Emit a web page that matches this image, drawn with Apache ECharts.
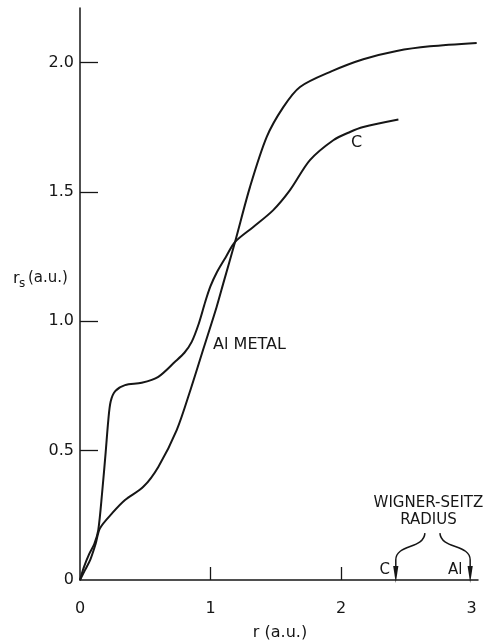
<!DOCTYPE html>
<html>
<head>
<meta charset="utf-8">
<script src="https://cdn.jsdelivr.net/npm/echarts@6/dist/echarts.min.js"></script>
<style>
  html, body { margin: 0; padding: 0; background: #fff; }
  #chart { width: 491px; height: 641px; }
</style>
</head>
<body>
<div id="chart"></div>
<script>
// Wigner-Seitz-type radius r_s versus distance r from the nucleus (atomic units)
const alR  = [0, 0.04, 0.08, 0.12, 0.153, 0.25, 0.345, 0.485, 0.6, 0.741, 0.85, 0.95, 1.047, 1.098, 1.188, 1.303, 1.431, 1.558, 1.686, 1.93, 2.171, 2.427, 2.682, 3.04];
const alRs = [0, 0.04, 0.08, 0.14, 0.2, 0.26, 0.309, 0.36, 0.437, 0.579, 0.74, 0.9, 1.055, 1.146, 1.306, 1.519, 1.712, 1.827, 1.905, 1.966, 2.012, 2.044, 2.062, 2.075];

const cR  = [0, 0.03, 0.07, 0.11, 0.14, 0.17, 0.197, 0.217, 0.235, 0.27, 0.345, 0.473, 0.6, 0.728, 0.8, 0.856, 0.91, 0.96, 1.0, 1.05, 1.12, 1.188, 1.328, 1.481, 1.609, 1.762, 1.941, 2.069, 2.171, 2.44];
const cRs = [0, 0.05, 0.1, 0.14, 0.193, 0.34, 0.495, 0.618, 0.69, 0.73, 0.753, 0.762, 0.785, 0.843, 0.878, 0.92, 0.99, 1.075, 1.135, 1.19, 1.25, 1.306, 1.364, 1.429, 1.506, 1.622, 1.699, 1.731, 1.75, 1.779];

const xTickLabels = [0, 1, 2, 3];
const xTickMarks  = [1, 2];
const yTickLabels = [0, 0.5, 1, 1.5, 2];
const yTickMarks  = [0.5, 1, 1.5, 2];

// Wigner-Seitz radii marked on the r axis
const wsRadius = { C: 2.42, Al: 2.99 };

const FONT = '"DejaVu Sans", "Liberation Sans", sans-serif';
const INK = '#161616';

const pairs = (xs, ys) => xs.map((x, i) => [x, ys[i]]);

const chart = echarts.init(document.getElementById('chart'), null, { renderer: 'canvas' });

chart.setOption({
  animation: false,
  backgroundColor: '#ffffff',
  grid: { left: 80, right: 13, top: 8, bottom: 61 },
  xAxis: {
    type: 'value', min: 0, max: 3.05,
    splitLine: { show: false },
    axisLine: { lineStyle: { color: INK, width: 1.5 } },
    axisTick: { inside: true, length: 13, lineStyle: { color: INK, width: 1.3 }, customValues: xTickMarks },
    axisLabel: { color: INK, fontFamily: FONT, fontSize: 16, margin: 21, customValues: xTickLabels,
                 formatter: v => String(v) }
  },
  yAxis: {
    type: 'value', min: 0, max: 2.21,
    splitLine: { show: false },
    axisLine: { lineStyle: { color: INK, width: 1.5 } },
    axisTick: { inside: true, length: 18, lineStyle: { color: INK, width: 1.3 }, customValues: yTickMarks },
    axisLabel: { color: INK, fontFamily: FONT, fontSize: 16, margin: 6, customValues: yTickLabels,
                 formatter: v => (v === 0 ? '0' : v.toFixed(1)) }
  },
  series: [
    {
      name: 'Al METAL', type: 'line', data: pairs(alR, alRs),
      showSymbol: false, smooth: 0.3,
      lineStyle: { color: INK, width: 2 }
    },
    {
      name: 'C', type: 'line', data: pairs(cR, cRs),
      showSymbol: false, smooth: 0.3,
      lineStyle: { color: INK, width: 2 }
    }
  ]
});

const px = (p) => chart.convertToPixel({ xAxisIndex: 0, yAxisIndex: 0 }, p);
const textStyle = (size) => ({ fill: INK, font: size + 'px ' + FONT });

const alLabel = px([1.02, 0.907]);
const cLabel = px([2.12, 1.69]);
const wsAnchor = px([2.67, 0.297]);
const tipC = px([wsRadius.C, 0]);
const tipAl = px([wsRadius.Al, 0]);

function arrow(start, tip, side) {
  const bendY = tip[1] - 20;
  const headTop = tip[1] - 14;
  const tipY = tip[1] + 3;
  return [
    { type: 'bezierCurve', silent: true,
      shape: { x1: start[0], y1: start[1], cpx1: start[0] + side * 1, cpy1: start[1] + 16,
               cpx2: tip[0], cpy2: bendY - 16, x2: tip[0], y2: bendY },
      style: { stroke: INK, lineWidth: 1.5, fill: null } },
    { type: 'line', silent: true,
      shape: { x1: tip[0], y1: bendY, x2: tip[0], y2: headTop + 2 },
      style: { stroke: INK, lineWidth: 1.5 } },
    { type: 'polygon', silent: true,
      shape: { points: [[tip[0] - 2.6, headTop], [tip[0] + 2.6, headTop], [tip[0], tipY]] },
      style: { fill: INK } }
  ];
}

const graphics = [
  // axis titles
  { type: 'text', left: 13, top: 271, style: Object.assign({ text: 'r' }, textStyle(16)) },
  { type: 'text', left: 19, top: 278, style: Object.assign({ text: 's' }, textStyle(12)) },
  { type: 'text', left: 28, top: 271, style: Object.assign({ text: '(a.u.)' }, textStyle(15)) },
  { type: 'text', x: 280, y: 633, style: Object.assign({ text: 'r (a.u.)', align: 'center', verticalAlign: 'middle' }, textStyle(16)) },
  // curve labels
  { type: 'text', x: alLabel[0], y: alLabel[1], style: Object.assign({ text: 'Al METAL', align: 'left', verticalAlign: 'middle' }, textStyle(16)) },
  { type: 'text', x: cLabel[0], y: cLabel[1], style: Object.assign({ text: 'C', align: 'center', verticalAlign: 'middle' }, textStyle(16)) },
  // Wigner-Seitz radius annotation
  { type: 'text', x: wsAnchor[0], y: wsAnchor[1], style: Object.assign({ text: 'WIGNER-SEITZ', align: 'center', verticalAlign: 'middle' }, textStyle(15)) },
  { type: 'text', x: wsAnchor[0], y: wsAnchor[1] + 17, style: Object.assign({ text: 'RADIUS', align: 'center', verticalAlign: 'middle' }, textStyle(15)) },
  { type: 'text', x: tipC[0] - 11, y: tipC[1] - 10, style: Object.assign({ text: 'C', align: 'center', verticalAlign: 'middle' }, textStyle(15)) },
  { type: 'text', x: tipAl[0] - 15, y: tipAl[1] - 10, style: Object.assign({ text: 'Al', align: 'center', verticalAlign: 'middle' }, textStyle(15)) }
]
  .concat(arrow([wsAnchor[0] - 3.5, wsAnchor[1] + 30], tipC, -1))
  .concat(arrow([wsAnchor[0] + 11.5, wsAnchor[1] + 30], tipAl, 1));

chart.setOption({ graphic: graphics });
</script>
</body>
</html>
